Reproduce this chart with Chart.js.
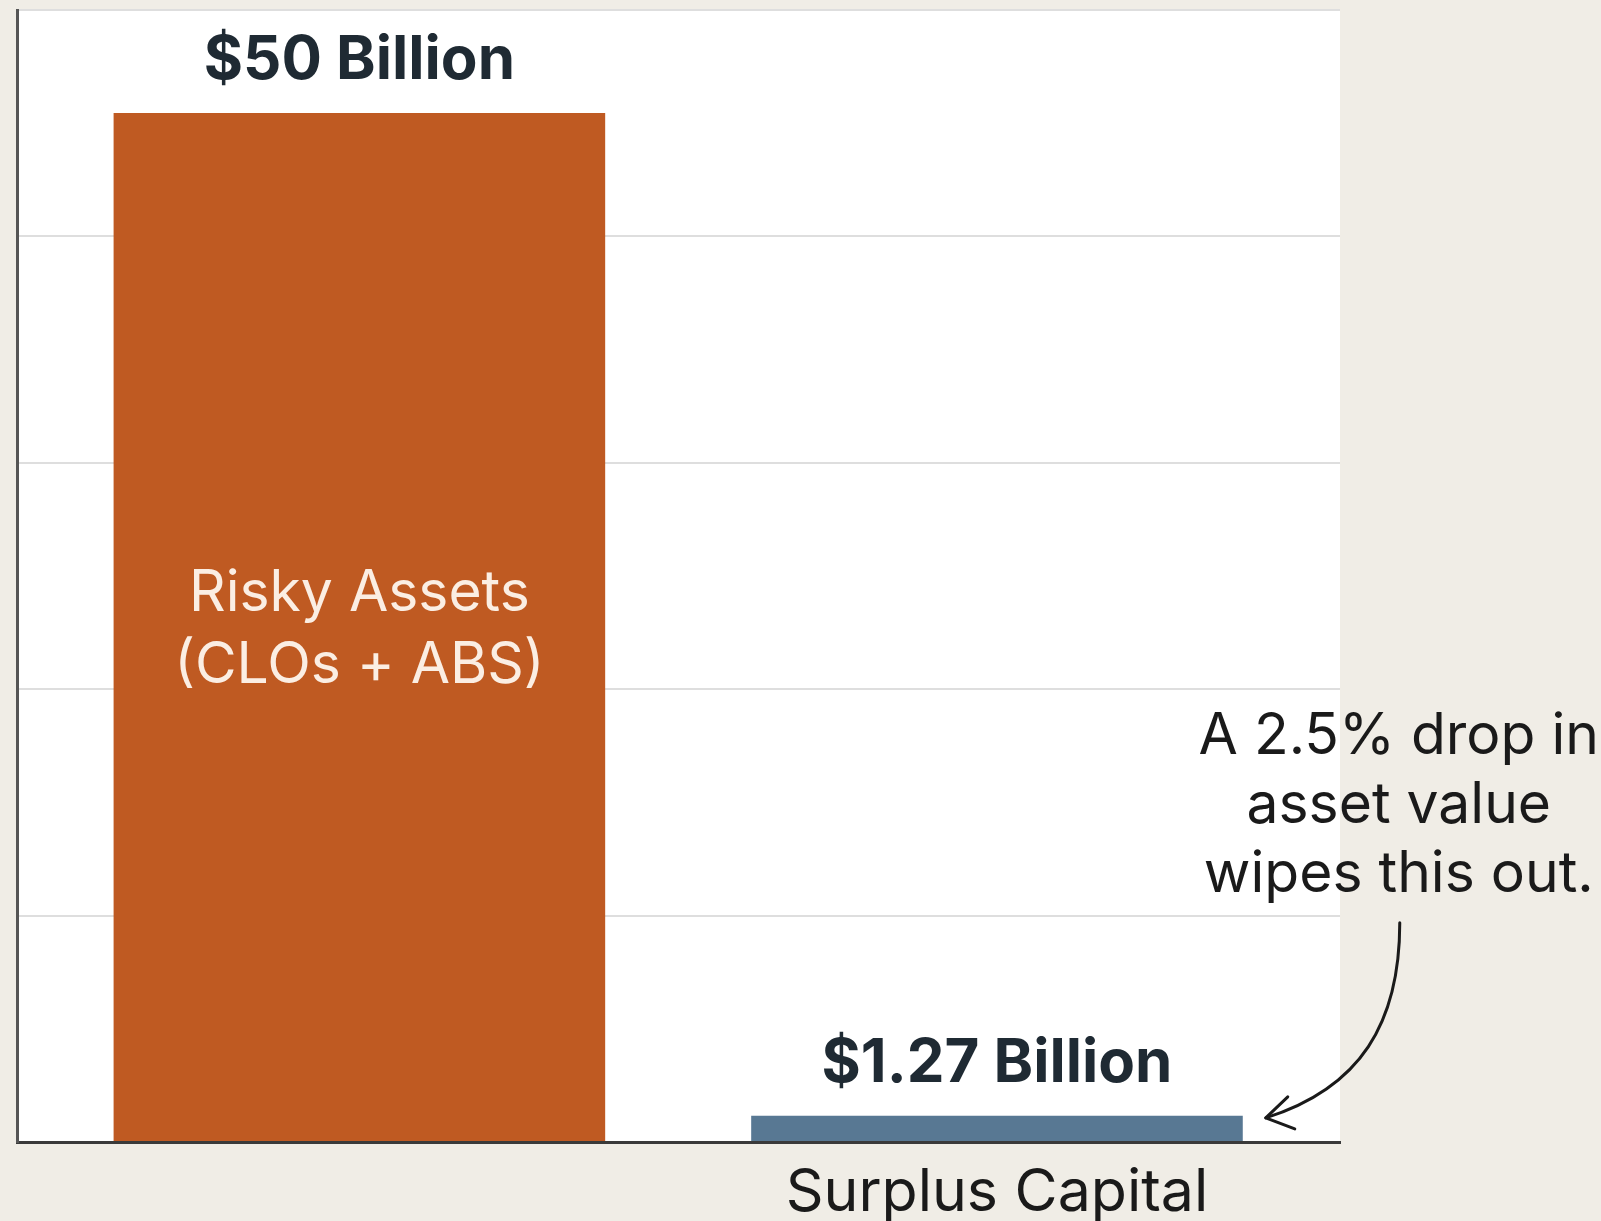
<!DOCTYPE html>
<html>
<head>
<meta charset="utf-8">
<script src="https://cdn.jsdelivr.net/npm/chart.js@4.4.1/dist/chart.umd.min.js"></script>
<style>
  html, body { margin: 0; padding: 0; background: #f0ede6; }
  #wrap { width: 1601px; height: 1221px; position: relative; }
</style>
</head>
<body>
<div id="wrap"><canvas id="c"></canvas></div>
<script>
// ---- data ----
const categories = ['Risky Assets (CLOs + ABS)', 'Surplus Capital'];
const values = [50, 1.27];
const valueLabels = ['$50 Billion', '$1.27 Billion'];
const axisLabels = ['', 'Surplus Capital'];
const insideLabels = [['Risky Assets', '(CLOs + ABS)'], []];
const barColors = ['#bf5a22', '#587893'];
const annotationLines = ['A 2.5% drop in', 'asset value', 'wipes this out.'];
const yMax = 55;
const yStep = 11;

const FONT = 'Inter, "Noto Sans", "DejaVu Sans", sans-serif';

const plotBg = {
  id: 'plotBg',
  beforeDraw(chart) {
    const { ctx, chartArea: a } = chart;
    ctx.save();
    ctx.fillStyle = '#ffffff';
    ctx.fillRect(a.left, a.top, a.right - a.left, a.bottom - a.top);
    ctx.restore();
  }
};

const labelsPlugin = {
  id: 'labelsPlugin',
  afterDatasetsDraw(chart) {
    const { ctx } = chart;
    const meta = chart.getDatasetMeta(0);
    ctx.save();
    meta.data.forEach((el, i) => {
      ctx.fillStyle = '#1f2a33';
      ctx.font = '700 60px ' + FONT;
      ctx.textAlign = 'center';
      ctx.textBaseline = 'alphabetic';
      ctx.fillText(valueLabels[i], el.x, el.y - 34);
      const lines = insideLabels[i];
      if (lines.length) {
        ctx.fillStyle = '#fbeee3';
        ctx.font = '400 57px ' + FONT;
        ctx.textBaseline = 'middle';
        const mid = (el.y + el.base) / 2 + 3;
        const lh = 72;
        lines.forEach((t, k) => {
          ctx.fillText(t, el.x, mid + (k - (lines.length - 1) / 2) * lh);
        });
      }
    });
    const el = meta.data[1];
    const tipX = el.x + el.width / 2 + 23;
    const tipY = el.y + 2;
    ctx.fillStyle = '#1a1a1a';
    ctx.font = '400 57px ' + FONT;
    ctx.textAlign = 'center';
    ctx.textBaseline = 'middle';
    const tx = tipX + 133;
    annotationLines.forEach((t, k) => {
      ctx.fillText(t, tx, tipY - 381 + k * 69);
    });
    ctx.strokeStyle = '#1a1a1a';
    ctx.lineWidth = 3;
    ctx.lineCap = 'round';
    ctx.lineJoin = 'round';
    ctx.beginPath();
    ctx.moveTo(tipX + 134, tipY - 195);
    ctx.bezierCurveTo(tipX + 134, tipY - 95, tipX + 95, tipY - 30, tipX, tipY);
    ctx.stroke();
    ctx.beginPath();
    ctx.moveTo(tipX + 22, tipY - 21);
    ctx.lineTo(tipX, tipY);
    ctx.lineTo(tipX + 29, tipY + 11);
    ctx.stroke();
    ctx.restore();
  }
};

new Chart(document.getElementById('c'), {
  type: 'bar',
  data: {
    labels: categories,
    datasets: [{
      label: 'Value ($ Billion)',
      data: values.map((v, i) => ({ x: i, y: v })),
      backgroundColor: barColors,
      borderWidth: 0,
      barPercentage: 0.771,
      categoryPercentage: 1.0
    }]
  },
  options: {
    responsive: true,
    maintainAspectRatio: false,
    animation: false,
    layout: { padding: { left: 17, right: 261, top: 10, bottom: 0 } },
    plugins: {
      legend: { display: false },
      tooltip: { enabled: false },
      title: { display: false }
    },
    scales: {
      x: {
        type: 'linear',
        offset: false,
        min: -0.537,
        max: 1.538,
        afterBuildTicks: axis => { axis.ticks = axisLabels.map((_, i) => ({ value: i })); },
        afterFit: axis => { axis.height = 79; },
        ticks: {
          autoSkip: false,
          maxRotation: 0,
          padding: 16,
          color: '#1a1a1a',
          font: { family: FONT, size: 59, weight: '400', lineHeight: 1.2 },
          callback: (v) => axisLabels[v] !== undefined ? axisLabels[v] : ''
        },
        grid: { display: false, drawTicks: false },
        border: { display: true, color: '#3a3a3a', width: 3 }
      },
      y: {
        min: 0,
        max: yMax,
        ticks: { display: false, stepSize: yStep },
        afterFit: axis => { axis.width = 0; },
        grid: { color: '#dedede', lineWidth: 2, drawTicks: false },
        border: { display: true, color: '#555555', width: 3 }
      }
    }
  },
  plugins: [plotBg, labelsPlugin]
});
</script>
</body>
</html>
